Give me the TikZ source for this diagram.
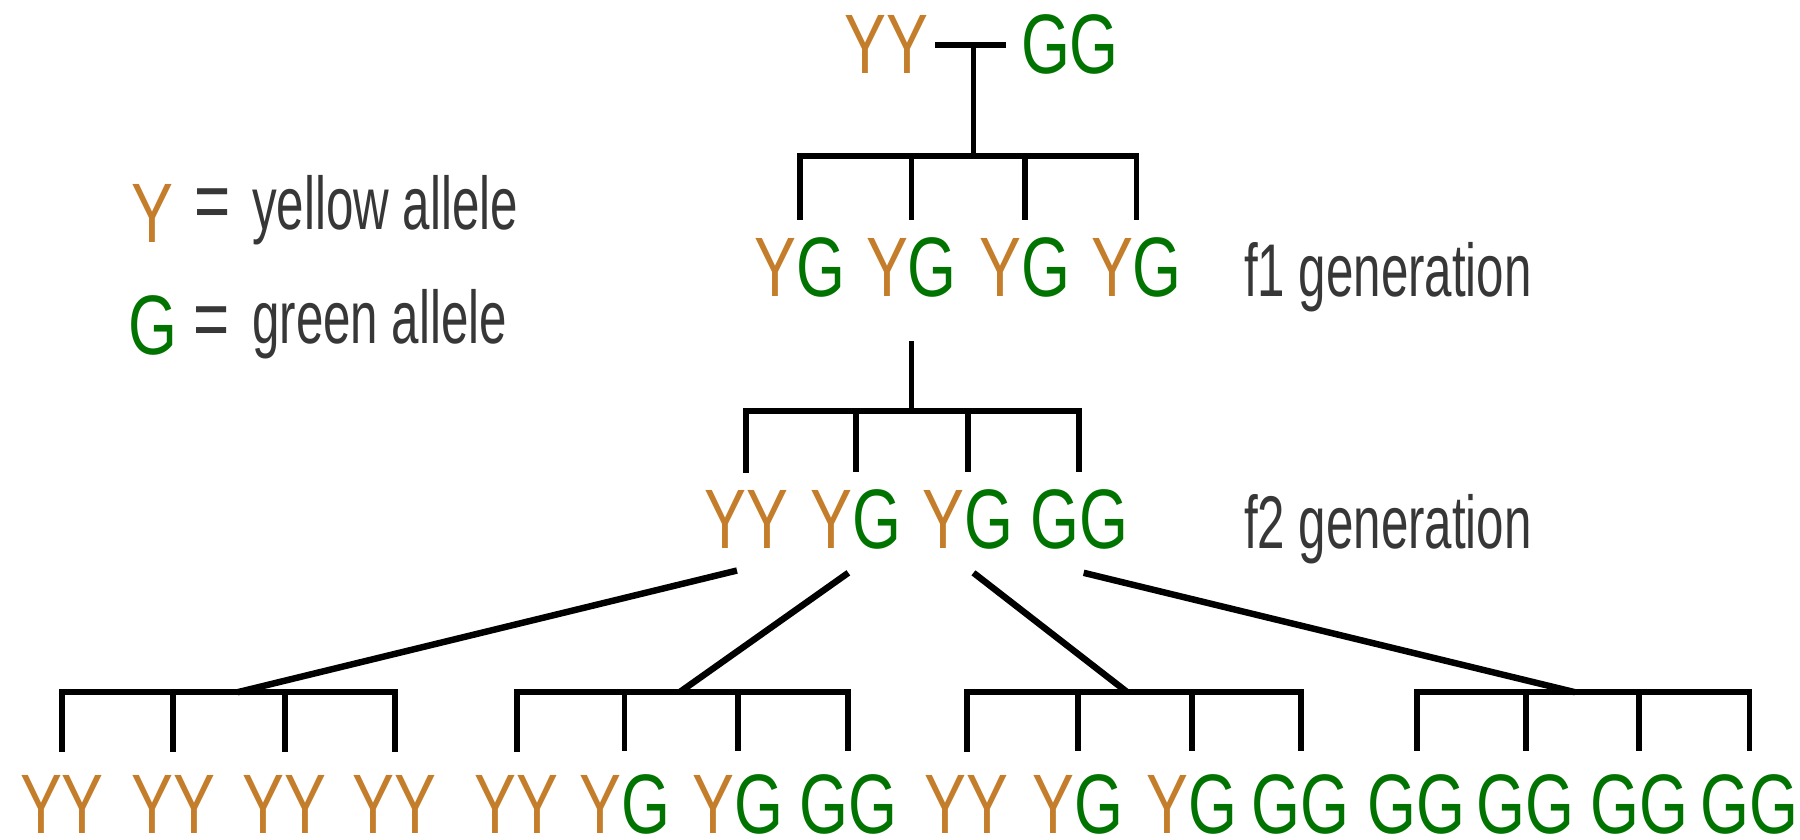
\documentclass[tikz,border=0pt]{standalone}
\usepackage{fontspec}
\setmainfont{Liberation Sans}
\newfontfamily\gfont[FakeStretch=0.745]{Liberation Sans}
\newfontfamily\lfont[FakeStretch=0.66]{Liberation Sans}
\definecolor{ycol}{RGB}{196,125,42}
\definecolor{gcol}{RGB}{0,115,0}
\definecolor{tcol}{RGB}{55,55,55}
\newcommand{\aY}{\textcolor{ycol}{Y}}
\newcommand{\aG}{\textcolor{gcol}{G}}
\begin{document}
\begin{tikzpicture}[x=0.01cm,y=-0.01cm,
  geno/.style={inner sep=0,anchor=base,font=\gfont\fontsize{20.9}{24}\selectfont},
  eqs/.style={inner sep=0,anchor=base,text=tcol,font=\gfont\fontsize{20.6}{24}\selectfont},
  lbl/.style={inner sep=0,anchor=base west,text=tcol,font=\lfont\fontsize{18.5}{22}\selectfont},
  ln/.style={line width=1.45pt,line cap=rect},
  dg/.style={line width=1.6pt}]
\useasboundingbox (0,0) rectangle (1568,731);
% legend
\node[geno] (ly) at (133,211) {\aY};
\node[eqs] (le1) at (185,200) {=};
\node[lbl] (lt1) at (219,200) {yellow allele};
\node[geno] (lg) at (133,309) {\aG};
\node[eqs] (le2) at (184,303) {=};
\node[lbl] (lt2) at (219,299) {green allele};
% parents
\node[geno] (p1) at (772,64) {\aY\aY};
\node[geno] (p2) at (932,64) {\aG\aG};
\coordinate (tb1) at (817,39);
\coordinate (tb2) at (874,39);
\coordinate (tbm) at (848,39);
\draw[ln] (tb1) -- (tb2);
% f1
\coordinate (b1l) at (697,136);
\coordinate (b1r) at (990,136);
\coordinate (b1m) at (848,136);
\draw[ln] (tbm) -- (b1m);
\draw[ln] (b1l) -- (b1r);
\foreach \n/\x in {f1a/697,f1b/794,f1c/893,f1d/990}{
  \node[geno] (\n) at (\x,258) {\aY\aG};
  \draw[ln] (\n.north |- b1l) -- ([yshift=0.17cm]\n.north);
}
\node[lbl] (gen1) at (1083,258) {f1 generation};
% f2
\coordinate (v2t) at (794,300);
\coordinate (b2l) at (650,358);
\coordinate (b2r) at (940,358);
\coordinate (b2m) at (794,358);
\draw[ln] (v2t) -- (b2m);
\draw[ln] (b2l) -- (b2r);
\node[geno] (f2a) at (650,478) {\aY\aY};
\node[geno] (f2b) at (746,478) {\aY\aG};
\node[geno] (f2c) at (843,478) {\aY\aG};
\node[geno] (f2d) at (940,478) {\aG\aG};
\foreach \n in {f2a,f2b,f2c,f2d}{
  \draw[ln] (\n.north |- b2l) -- ([yshift=0.17cm]\n.north);
}
\node[lbl] (gen2) at (1083,478) {f2 generation};
% diagonals
\coordinate (d1t) at (642,497);
\coordinate (d2t) at (739,499);
\coordinate (d3t) at (848,499);
\coordinate (d4t) at (944,499);
\coordinate (c1) at (207,603);
\coordinate (c2) at (592,603);
\coordinate (c3) at (982,603);
\coordinate (c4) at (1372,603);
\draw[dg] (d1t) -- (c1);
\draw[dg] (d2t) -- (c2);
\draw[dg] (d3t) -- (c3);
\draw[dg] (d4t) -- (c4);
% bottom brackets
\coordinate (e1l) at (54,603);   \coordinate (e1r) at (344,603);
\coordinate (e2l) at (450,603);  \coordinate (e2r) at (739,603);
\coordinate (e3l) at (842,603);  \coordinate (e3r) at (1133,603);
\coordinate (e4l) at (1234,603); \coordinate (e4r) at (1524,603);
\foreach \k in {1,2,3,4}{\draw[ln] (e\k l) -- (e\k r);}
\foreach \n/\x/\t in {
  g1/54/\aY\aY, g2/151/\aY\aY, g3/248/\aY\aY, g4/344/\aY\aY,
  g5/450/\aY\aY, g6/544/\aY\aG, g7/643/\aY\aG, g8/739/\aG\aG,
  g9/842/\aY\aY, g10/939/\aY\aG, g11/1038/\aY\aG, g12/1133/\aG\aG,
  g13/1234/\aG\aG, g14/1329/\aG\aG, g15/1428/\aG\aG, g16/1524/\aG\aG}{
  \node[geno] (\n) at (\x,726) {\t};
  \draw[ln] (\n.north |- e1l) -- ([yshift=0.22cm]\n.north);
}
\end{tikzpicture}
\end{document}
